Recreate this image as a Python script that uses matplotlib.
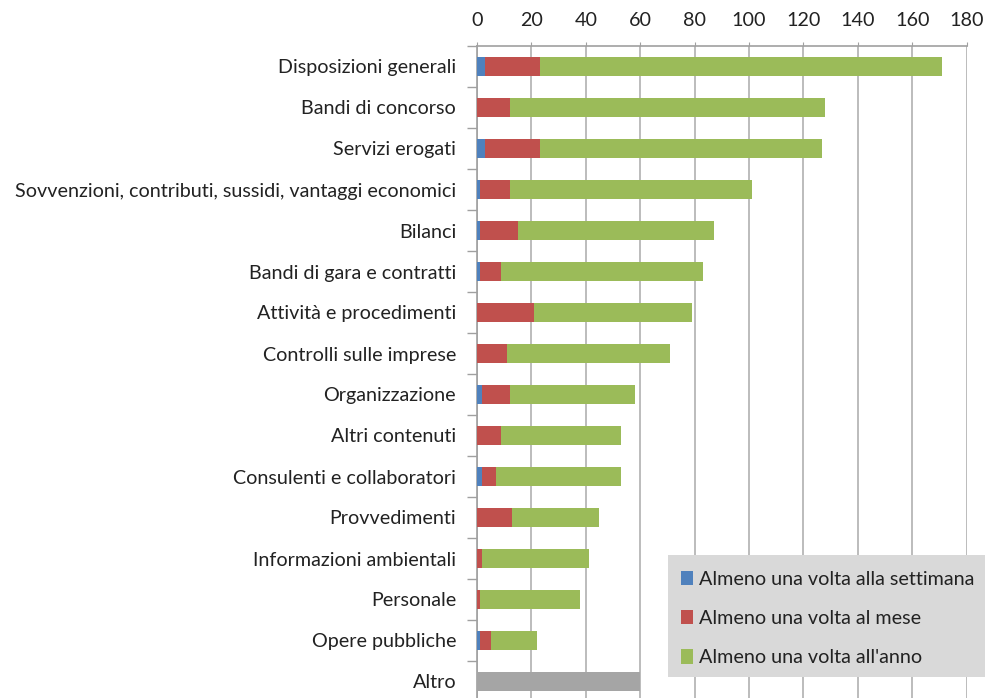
import matplotlib
matplotlib.use("Agg")
import matplotlib.pyplot as plt
from matplotlib.patches import Rectangle
import numpy as np

categories = ["Disposizioni generali", "Bandi di concorso", "Servizi erogati",
              "Sovvenzioni, contributi, sussidi, vantaggi economici", "Bilanci",
              "Bandi di gara e contratti", "Attività e procedimenti",
              "Controlli sulle imprese", "Organizzazione", "Altri contenuti",
              "Consulenti e collaboratori", "Provvedimenti",
              "Informazioni ambientali", "Personale", "Opere pubbliche", "Altro"]
settimana = [3, 0, 3, 1, 1, 1, 0, 0, 2, 0, 2, 0, 0, 0, 1, 0]
mese      = [20, 12, 20, 11, 14, 8, 21, 11, 10, 9, 5, 13, 2, 1, 4, 0]
anno      = [148, 116, 104, 89, 72, 74, 58, 60, 46, 44, 46, 32, 39, 37, 17, 0]
altro     = [0, 0, 0, 0, 0, 0, 0, 0, 0, 0, 0, 0, 0, 0, 0, 60]
series_names = ["Almeno una volta alla settimana", "Almeno una volta al mese",
                "Almeno una volta all'anno"]
xticks = [0, 20, 40, 60, 80, 100, 120, 140, 160, 180]

plt.rcParams['font.family'] = ['Lato', 'DejaVu Sans']

W, H = 985, 698
fig = plt.figure(figsize=(W / 100, H / 100), dpi=100)
ax = fig.add_axes([477 / W, -4 / H, (966.6 - 477) / W, 656 / H])

y = np.arange(len(categories))
s = np.array(settimana)
m = np.array(mese)
a = np.array(anno)
bh = 0.46
b1 = ax.barh(y, s, height=bh, color="#4f81bd", edgecolor="none", zorder=3)
b2 = ax.barh(y, m, left=s, height=bh, color="#c0504d", edgecolor="none", zorder=3)
b3 = ax.barh(y, a, left=s + m, height=bh, color="#9bbb59", edgecolor="none", zorder=3)
ax.barh(y, altro, height=bh, color="#a5a5a5", edgecolor="none", zorder=3)

fs = 14.2
ax.set_xlim(0, 180)
ax.set_ylim(len(categories) - 0.5, -0.5)
ax.set_xticks(xticks)
ax.xaxis.tick_top()
ax.tick_params(axis='x', which='both', length=3, color="#a0a0a0", pad=9,
               labelsize=fs, labelcolor="#222222")
ax.set_yticks(y)
ax.set_yticklabels(categories)
ax.set_yticks(np.arange(len(categories) + 1) - 0.5, minor=True)
ax.tick_params(axis='y', which='major', length=0, pad=15, labelsize=fs,
               labelcolor="#222222")
ax.tick_params(axis='y', which='minor', length=7, color="#a0a0a0", width=1)
ax.grid(axis='x', color="#b0b0b0", linewidth=1.2, zorder=0)
for sp in ["right", "bottom"]:
    ax.spines[sp].set_visible(False)
ax.spines["left"].set_color("#a0a0a0")
ax.spines["top"].set_color("#a0a0a0")
ax.spines["left"].set_linewidth(1.2)
ax.spines["top"].set_linewidth(1.2)

# legend box
fig.patches.append(Rectangle((668 / W, 1 - 677 / H), (W - 668) / W, (677 - 555) / H,
                             transform=fig.transFigure, facecolor="#d9d9d9",
                             edgecolor="none", zorder=5))
leg = fig.legend([b1, b2, b3], series_names, loc="upper left",
                 bbox_to_anchor=(665 / W, 1 - 555 / H), frameon=False,
                 fontsize=fs, handlelength=0.6, handleheight=0.75,
                 handletextpad=0.3, labelspacing=1.12, borderpad=0.3)
leg.set_zorder(6)
for t in leg.get_texts():
    t.set_color("#222222")

fig.savefig("out.png", dpi=100)
